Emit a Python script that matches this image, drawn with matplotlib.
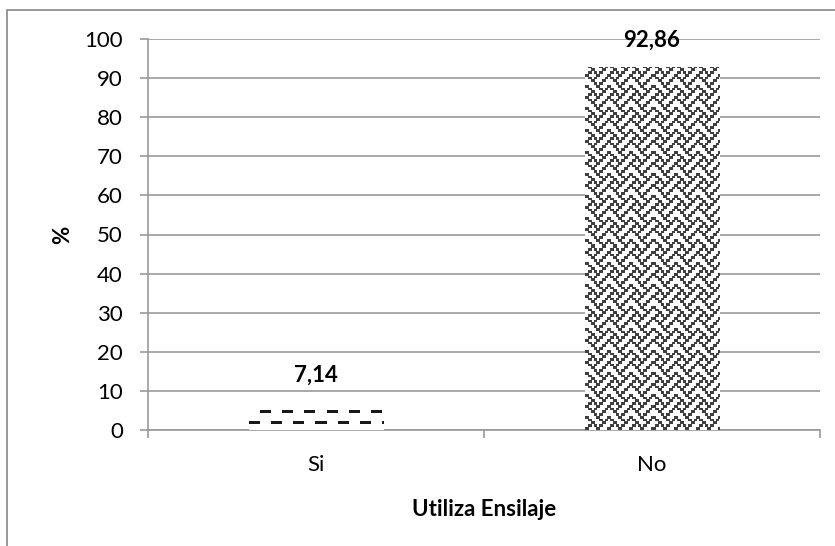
import numpy as np
import matplotlib.pyplot as plt
from matplotlib.patches import Rectangle

categorias = ["Si", "No"]
valores = [7.14, 92.86]
etiquetas = ["7,14", "92,86"]

# tramas tipo Excel (8x8 bits): rayas discontinuas y tejido
trama_rayas = [0x0f, 0x00, 0x00, 0x00, 0xf0, 0x00, 0x00, 0x00]
trama_tejido = [0x88, 0x54, 0x22, 0x45, 0x88, 0x14, 0x22, 0x51]
tramas = [trama_rayas, trama_tejido]

plt.rcParams['font.family'] = ['Lato', 'DejaVu Sans']

fig = plt.figure(figsize=(8.35, 5.46), dpi=100)
ax = fig.add_axes([148/835, 1-430/546, 672/835, 391/546])

# marco gris del grafico
fig.patches.append(Rectangle((7/835, -0.1), 1.1, 1-10/546+0.1, transform=fig.transFigure,
                             fill=False, edgecolor='#888888', linewidth=1.2))

ax.set_xlim(0, 2)
ax.set_ylim(0, 100)


def rellenar(barra, bits, escala=2.75, desfase=0, grueso=False, color=(0.2, 0.2, 0.2)):
    x0, y0 = barra.get_x(), barra.get_y()
    x1, y1 = x0 + barra.get_width(), y0 + barra.get_height()
    p0 = ax.transData.transform((x0, y0))
    p1 = ax.transData.transform((x1, y1))
    w = max(int(round(p1[0] - p0[0])), 1)
    h = max(int(round(p1[1] - p0[1])), 1)
    tile = np.array([[(b >> (7 - k)) & 1 for k in range(8)] for b in bits])
    fil = ((np.arange(h) + desfase) / escala).astype(int) % 8
    col = (np.arange(w) / escala).astype(int) % 8
    m = tile[np.ix_(fil, col)]
    if grueso:
        m = m | np.roll(m, 1, axis=1)
    img = np.ones((h, w, 4))
    img[..., :3] = np.where(m[..., None] == 1, color, (1, 1, 1))
    im = ax.imshow(img, extent=(x0, x1, y1, y0), origin='upper', interpolation='nearest',
                   aspect='auto', zorder=3)
    im.set_clip_path(barra)


pos = [0.5, 1.5]
barras = ax.bar(pos, valores, width=0.4, color='white', linewidth=0, zorder=2)
rellenar(barras[0], tramas[0], desfase=5, color=(0.1, 0.1, 0.1))
rellenar(barras[1], tramas[1], grueso=True, color=(0.25, 0.25, 0.25))
ax.set_xlim(0, 2)
ax.set_ylim(0, 100)

for x, v, e in zip(pos, valores, etiquetas):
    ax.annotate(e, (x, v), xytext=(0, 19.5), textcoords='offset points', ha='center', va='center',
                fontsize=16, fontweight='bold')

ax.set_yticks(range(0, 101, 10))
ax.set_xticks([0, 1, 2])
ax.set_xticklabels([])
ax.set_xticks(pos, minor=True)
ax.set_xticklabels(categorias, minor=True)
ax.tick_params(axis='x', which='minor', length=0, pad=18, labelsize=16)
ax.tick_params(axis='x', which='major', length=6, color='#999999', width=1.2)
ax.tick_params(axis='y', length=6, color='#999999', width=1.2, labelsize=16, pad=12)
ax.yaxis.grid(True, color='#999999', linewidth=1.2, zorder=0)
ax.set_axisbelow(True)
for s in ['top', 'right']:
    ax.spines[s].set_visible(False)
for s in ['left', 'bottom']:
    ax.spines[s].set_color('#999999')
    ax.spines[s].set_linewidth(1.2)

ax.set_ylabel('%', fontsize=16, fontweight='bold', labelpad=8)
ax.set_xlabel('Utiliza Ensilaje', fontsize=16, fontweight='bold', labelpad=17.5)

fig.savefig('out.png', dpi=100)
